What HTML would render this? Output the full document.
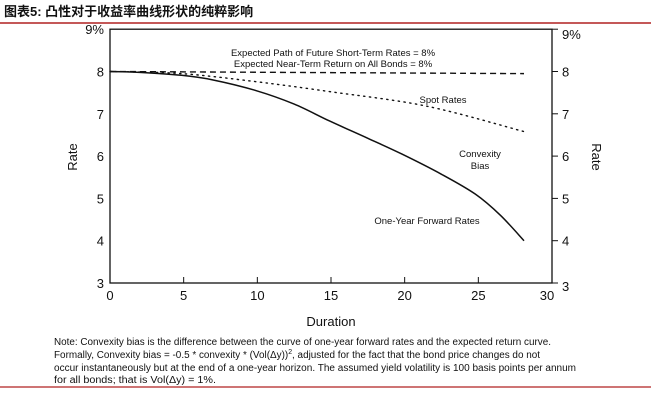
<!DOCTYPE html>
<html><head><meta charset="utf-8"><style>
body{margin:0;background:#fff;width:651px;height:402px;overflow:hidden;font-family:"Liberation Sans","Noto Sans CJK SC",sans-serif}
svg text{font-family:"Liberation Sans","Noto Sans CJK SC",sans-serif;fill:#111}
</style></head><body>
<svg width="651" height="402">
<text x="4" y="16" font-size="13" font-weight="bold">图表5:   凸性对于收益率曲线形状的纯粹影响</text>
<line x1="0" y1="23" x2="651" y2="23" stroke="#b02020" stroke-width="1.5"/>
<g id="plot"></g>
<text x="77" y="157" font-size="13" transform="rotate(-90 77 157)" text-anchor="middle">Rate</text>
<text x="592" y="157" font-size="13" transform="rotate(90 592 157)" text-anchor="middle">Rate</text>
<text x="331" y="326" font-size="13" text-anchor="middle">Duration</text>
<text x="333" y="56" font-size="9.5" text-anchor="middle">Expected Path of Future Short-Term Rates = 8%</text>
<text x="333" y="67" font-size="9.5" text-anchor="middle">Expected Near-Term Return on All Bonds = 8%</text>
<text x="443" y="103" font-size="9.5" text-anchor="middle">Spot Rates</text>
<text x="480" y="157" font-size="9.5" text-anchor="middle">Convexity</text>
<text x="480" y="169" font-size="9.5" text-anchor="middle">Bias</text>
<text x="427" y="224" font-size="9.5" text-anchor="middle">One-Year Forward Rates</text>
<g font-size="10">
<text x="54" y="345" textLength="497" lengthAdjust="spacingAndGlyphs">Note: Convexity bias is the difference between the curve of one-year forward rates and the expected return curve.</text>
<text x="54" y="358" textLength="486" lengthAdjust="spacingAndGlyphs">Formally, Convexity bias = -0.5 * convexity * (Vol(Δy))<tspan dy="-4" font-size="7">2</tspan><tspan dy="4">, adjusted for the fact that the bond price changes do not</tspan></text>
<text x="54" y="371" textLength="522" lengthAdjust="spacingAndGlyphs">occur instantaneously but at the end of a one-year horizon. The assumed yield volatility is 100 basis points per annum</text>
<text x="54" y="383" textLength="162" lengthAdjust="spacingAndGlyphs">for all bonds; that is Vol(Δy) = 1%.</text>
</g>
<line x1="0" y1="387" x2="651" y2="387" stroke="#b02020" stroke-width="1.2"/>
</svg>
<script>
const xTicks=[0,5,10,15,20,25,30];
const yTicks=[3,4,5,6,7,8,9];
const yTickLabels=["3","4","5","6","7","8","9%"];
const fwdDur=[0,2,4.85,7,9.9,12.5,14.9,17.5,19.8,22.5,24.8,26.5,28.1];
const fwdRate=[8,7.98,7.91,7.8,7.55,7.23,6.83,6.42,6.05,5.57,5.1,4.6,4.0];
const spotDur=[0,4.85,9.9,15,21.5,28.1];
const spotRate=[8,7.95,7.76,7.52,7.18,6.58];
const expDur=[0,28.1];
const expRate=[8,7.95];
const X=d=>110+d*(552-110)/30;
const Y=r=>283-(r-3)*42.3;
const NS="http://www.w3.org/2000/svg";
const g=document.getElementById('plot');
function mk(t,a){const e=document.createElementNS(NS,t);for(const k in a)e.setAttribute(k,a[k]);g.appendChild(e);return e;}
let e=mk('rect',{x:X(0),y:Y(9),width:X(30)-X(0),height:Y(3)-Y(9),fill:'none',stroke:'#111','stroke-width':1.3});


xTicks.forEach(t=>{
 const l=mk('line',{x1:X(t),x2:X(t),y1:Y(3),y2:Y(3)-6,stroke:'#111'});
 
 
 const tx=mk('text',{x:X(t)+(t==30?-5:0),y:300,'font-size':13,'text-anchor':'middle'});tx.textContent=t;
 
 
});
yTicks.forEach((t,i)=>{
 const l=mk('line',{x1:X(30),x2:X(30)+6,y1:Y(t),y2:Y(t),stroke:'#111'});
 
 
 const a=mk('text',{x:104,y:Y(t)+5,'font-size':13,'text-anchor':'end'});a.textContent=yTickLabels[i];
 
 
 const b=mk('text',{x:562,y:Y(t)+5+(t==3?3:0)+(t==9?5:0),'font-size':13});b.textContent=yTickLabels[i];
 
 
});
function smooth(ds,rs){
 const p=ds.map((d,i)=>[X(d),Y(rs[i])]);
 let s='M'+p[0][0]+','+p[0][1];
 for(let i=0;i<p.length-1;i++){
  const p0=p[Math.max(0,i-1)],p1=p[i],p2=p[i+1],p3=p[Math.min(p.length-1,i+2)];
  const c1=[p1[0]+(p2[0]-p0[0])/6,p1[1]+(p2[1]-p0[1])/6];
  const c2=[p2[0]-(p3[0]-p1[0])/6,p2[1]-(p3[1]-p1[1])/6];
  s+=' C'+c1+' '+c2+' '+p2;
 }
 return s;
}
function line(ds,rs,st){return mk('path',Object.assign({d:smooth(ds,rs),fill:'none',stroke:'#111'},st));}
e=line(expDur,expRate,{'stroke-width':1.4,'stroke-dasharray':'6,4'});


e=line(spotDur,spotRate,{'stroke-width':1.4,'stroke-dasharray':'1.3,4.5','stroke-linecap':'round'});


e=line(fwdDur,fwdRate,{'stroke-width':1.5});


</script>
</body></html>
